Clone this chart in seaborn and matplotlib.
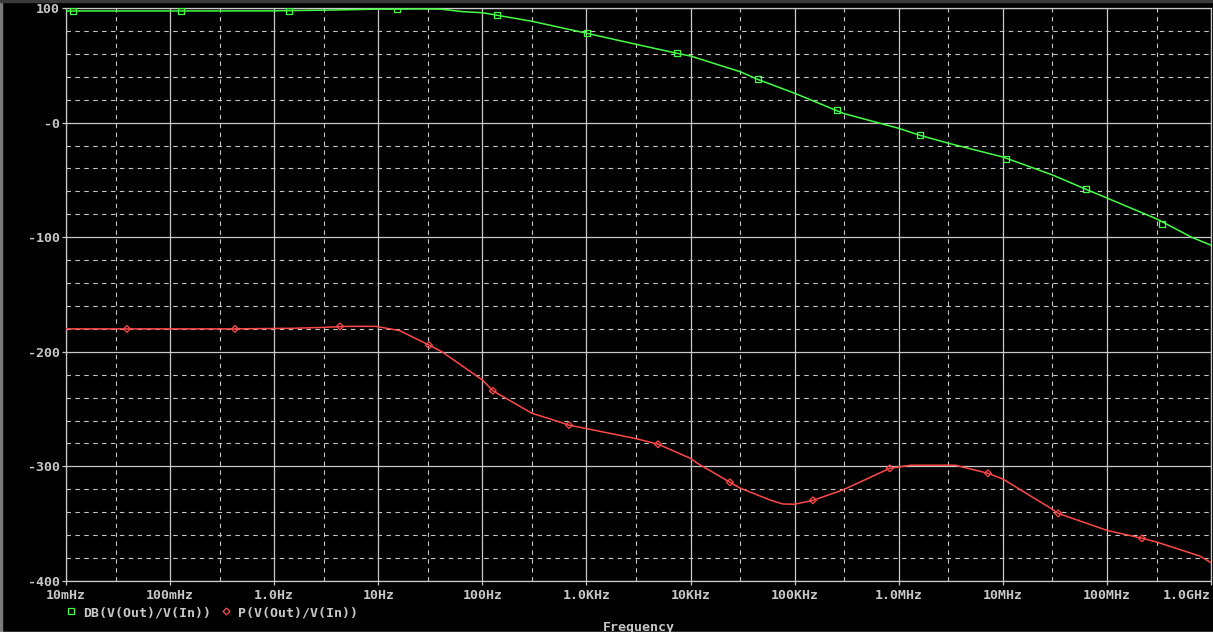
import pandas as pd
import seaborn as sns
import matplotlib.pyplot as plt
from matplotlib.ticker import FixedLocator, MultipleLocator, NullFormatter
from matplotlib.lines import Line2D
from matplotlib.patches import Rectangle

# Bode data (frequency in Hz)
freq_db = [0.01, 0.1, 1, 4, 10, 15, 25, 40, 65, 100, 140, 300, 1e3, 3e3, 7.4e3, 1e4,
           3e4, 4.4e4, 1e5, 2.5e5, 3e5, 1e6, 1.6e6, 3e6, 1e7, 3e7, 6.3e7, 1e8, 3e8, 6.5e8, 1e9]
gain_db = [97.4, 97.4, 97.5, 98.3, 99.0, 99.0, 99.2, 99.0, 96.8, 95.9, 93.6, 88.4, 78.0, 68.3, 60.5, 58.1,
           44.4, 37.8, 25.6, 10.7, 7.8, -5.0, -11.1, -18.0, -30.0, -45.7, -58.2, -65.8, -84.0, -100.0, -107.0]

freq_ph = [0.01, 0.4, 1.5, 3, 5, 9.5, 16, 31, 41, 100, 126, 300, 450, 680, 1e3, 3e3, 4.9e3, 1e4,
           1.2e4, 2.4e4, 3e4, 5.8e4, 7.7e4, 1e5, 1.5e5, 2.9e5, 8.2e5, 1.3e6, 3.5e6, 7.2e6, 1e7,
           3e7, 3.4e7, 1e8, 2.2e8, 3e8, 7.8e8, 1e9]
phase = [-180.0, -180.0, -179.5, -178.7, -177.8, -177.8, -181.5, -194.3, -200.0, -224.6, -234.0, -253.7,
         -258.6, -264.0, -267.0, -275.8, -280.7, -293.0, -298.0, -313.9, -319.0, -329.3, -332.8, -333.0,
         -329.6, -320.6, -301.7, -299.0, -299.0, -306.0, -311.0, -337.5, -341.0, -355.8, -362.8, -366.0,
         -378.2, -384.0]

# PSpice trace symbols
mark_freq_db = [0.0117, 0.127, 1.39, 15.1, 138, 1011, 7.4e3, 4.44e4, 2.55e5, 1.6e6, 1.08e7, 6.3e7, 3.37e8]
mark_db = [97.4, 97.4, 97.5, 99.0, 93.6, 78.0, 60.5, 37.8, 10.7, -11.1, -32.0, -58.2, -88.2]
mark_freq_ph = [0.0385, 0.42, 4.29, 30.7, 126, 679, 4.86e3, 2.39e4, 1.5e5, 8.2e5, 7.2e6, 3.4e7, 2.17e8]
mark_ph = [-180.0, -180.0, -177.8, -194.3, -234.0, -264.0, -280.7, -313.9, -329.6, -301.7, -306.0, -341.0, -362.8]

x_ticks = [1e-2, 1e-1, 1e0, 1e1, 1e2, 1e3, 1e4, 1e5, 1e6, 1e7, 1e8, 1e9]
x_labels = ["10mHz", "100mHz", "1.0Hz", "10Hz", "100Hz", "1.0KHz", "10KHz",
            "100KHz", "1.0MHz", "10MHz", "100MHz", "1.0GHz"]
y_ticks = [100, 0, -100, -200, -300, -400]
y_labels = ["100", "-0", "-100", "-200", "-300", "-400"]

green = "#44ff44"
red = "#ff4848"
fg = "#c8c8c8"

sns.set_theme(style="dark", rc={"axes.facecolor": "black", "figure.facecolor": "black"})
plt.rcParams["font.family"] = ["DejaVu Sans Mono"]
plt.rcParams["font.weight"] = "bold"

df_db = pd.DataFrame({"f": freq_db, "v": gain_db})
df_ph = pd.DataFrame({"f": freq_ph, "v": phase})

fig = plt.figure(figsize=(12.13, 6.35), dpi=100)
ax = fig.add_axes([66 / 1213, 1 - 581 / 635, (1211 - 66) / 1213, (581 - 8) / 635])
ax.set_xscale("log")

sns.lineplot(data=df_db, x="f", y="v", color=green, lw=1.1, ax=ax, zorder=3)
sns.lineplot(data=df_ph, x="f", y="v", color=red, lw=1.1, ax=ax, zorder=3)
sns.scatterplot(x=mark_freq_db, y=mark_db, marker="s", s=20, facecolor="none",
                edgecolor=green, linewidth=0.9, ax=ax, zorder=4)
sns.scatterplot(x=mark_freq_ph, y=mark_ph, marker="D", s=12, facecolor="none",
                edgecolor=red, linewidth=0.9, ax=ax, zorder=4)

ax.set_xlim(1e-2, 1e9)
ax.set_ylim(-400, 100)

ax.set_xticks(x_ticks)
ax.set_xticklabels(x_labels)
ax.get_xticklabels()[-1].set_horizontalalignment("right")
ax.xaxis.set_minor_locator(FixedLocator([3 * t for t in x_ticks[:-1]]))
ax.xaxis.set_minor_formatter(NullFormatter())
ax.set_yticks(y_ticks)
ax.set_yticklabels(y_labels)
ax.yaxis.set_minor_locator(MultipleLocator(20))

ax.grid(which="major", color=fg, lw=0.9, ls="-")
ax.grid(which="minor", color=fg, lw=0.8, ls=(0, (4, 4)))
ax.tick_params(which="major", direction="out", length=3, width=0.9, color=fg,
               labelcolor=fg, labelsize=9.5, bottom=True, left=True)
ax.tick_params(axis="x", which="major", pad=3)
ax.tick_params(axis="y", which="major", pad=1.5)
ax.tick_params(which="minor", length=0)
for sp in ax.spines.values():
    sp.set_color(fg)
    sp.set_linewidth(0.9)

ax.set_ylabel("")
ax.set_xlabel("Frequency", color=fg, fontsize=9.5, fontweight="bold")
ax.xaxis.set_label_coords(0.5, -0.069)

handles = [
    Line2D([], [], ls="none", marker="s", markersize=4.5, markerfacecolor="none",
           markeredgecolor=green, markeredgewidth=0.9, label="DB(V(Out)/V(In))"),
    Line2D([], [], ls="none", marker="D", markersize=3.5, markerfacecolor="none",
           markeredgecolor=red, markeredgewidth=0.9, label="P(V(Out)/V(In))"),
]
leg = ax.legend(handles=handles, loc="center left", bbox_to_anchor=(0.0, -0.055), ncol=2,
                frameon=False, handlelength=0.8, handletextpad=0.5, columnspacing=0.7,
                borderaxespad=0, borderpad=0, fontsize=9.5)
for t in leg.get_texts():
    t.set_color(fg)

# window border like the PSpice probe screen
fig.add_artist(Rectangle((0, 0), 2 / 1213, 1, transform=fig.transFigure, color="#7a7a7a"))
fig.add_artist(Rectangle((0, 1 - 2 / 635), 1, 2 / 635, transform=fig.transFigure, color="#3a3a3a"))
fig.add_artist(Rectangle((0, 0), 1, 3 / 635, transform=fig.transFigure, color="white"))

fig.savefig("out.png", dpi=100, facecolor="black")
